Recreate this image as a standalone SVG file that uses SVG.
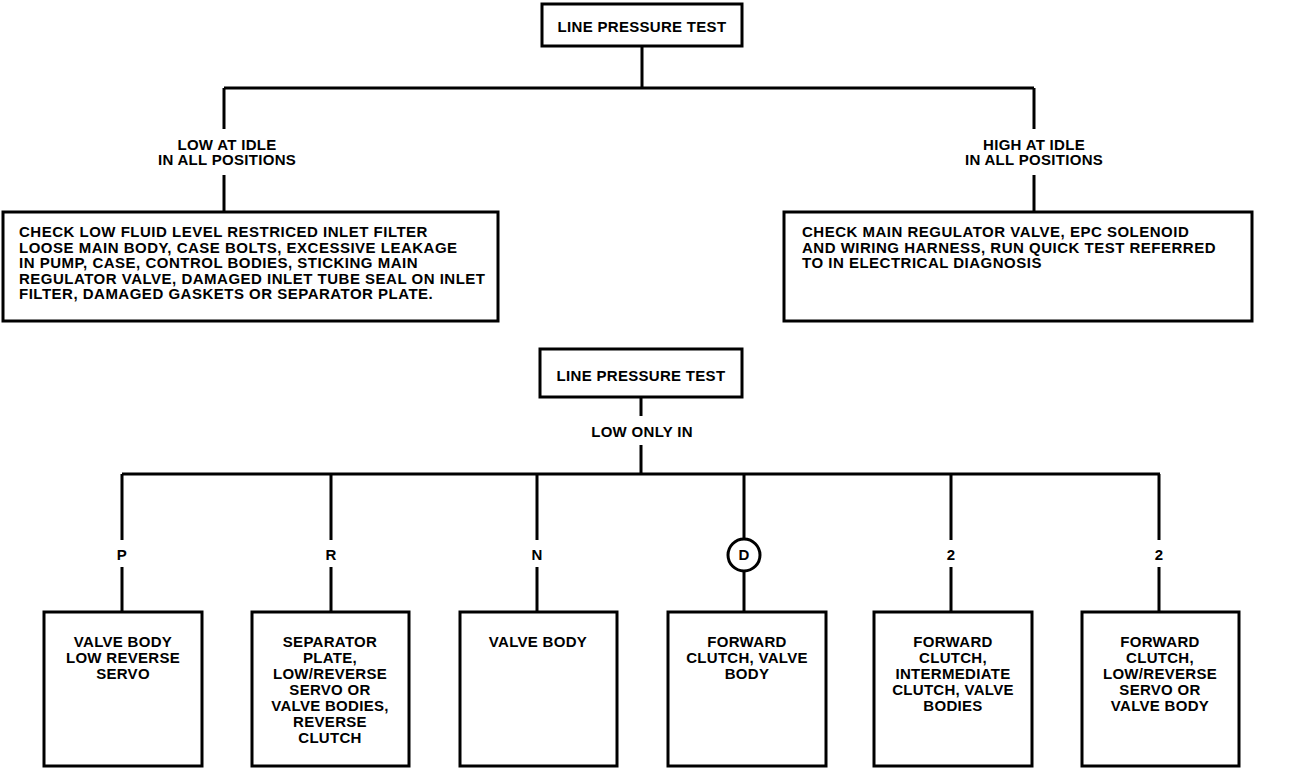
<svg xmlns="http://www.w3.org/2000/svg" width="1312" height="770" viewBox="0 0 1312 770">
<style>
.box{fill:#fff;stroke:#000;stroke-width:3}
.ln{fill:none;stroke:#000;stroke-width:3}
text{font-family:"Liberation Sans",Arial,sans-serif;font-weight:bold;font-size:15px;letter-spacing:0.3px;fill:#000}
.c{text-anchor:middle}
.w{letter-spacing:0.5px}
</style>
<rect width="1312" height="770" fill="#fff"/>
<g id="connectors">
<path class="ln" d="M642 46V88M224 88H1034M224 88V129M224 175V212M1034 88V129M1034 175V212"/>
<path class="ln" d="M641 397V416M641 445V474M122 474H1160"/>
<path class="ln" d="M122 474V540M122 567V612M331 474V540M331 567V612M537 474V540M537 567V612M744 474V539M744 571V612M951 474V540M951 567V612M1159 474V540M1159 567V612"/>
</g>
<g id="lpt1"><rect class="box" x="542" y="4" width="200" height="42"/><text class="c" x="642" y="32">LINE PRESSURE TEST</text></g>
<g id="lowidle"><text class="c" x="227" y="150">LOW AT IDLE</text><text class="c" x="227" y="165">IN ALL POSITIONS</text></g>
<g id="highidle"><text class="c" x="1034" y="150">HIGH AT IDLE</text><text class="c" x="1034" y="165">IN ALL POSITIONS</text></g>
<g id="lowcheck"><rect class="box" x="3" y="212" width="495" height="109"/>
<text class="w" x="19" y="237">CHECK LOW FLUID LEVEL RESTRICED INLET FILTER</text>
<text class="w" x="19" y="253">LOOSE MAIN BODY, CASE BOLTS, EXCESSIVE LEAKAGE</text>
<text class="w" x="19" y="268">IN PUMP, CASE, CONTROL BODIES, STICKING MAIN</text>
<text class="w" x="19" y="284">REGULATOR VALVE, DAMAGED INLET TUBE SEAL ON INLET</text>
<text class="w" x="19" y="299">FILTER, DAMAGED GASKETS OR SEPARATOR PLATE.</text></g>
<g id="highcheck"><rect class="box" x="784" y="212" width="468" height="109"/>
<text class="w" x="802" y="237">CHECK MAIN REGULATOR VALVE, EPC SOLENOID</text>
<text class="w" x="802" y="253">AND WIRING HARNESS, RUN QUICK TEST REFERRED</text>
<text class="w" x="802" y="268">TO IN ELECTRICAL DIAGNOSIS</text></g>
<g id="lpt2"><rect class="box" x="540" y="349" width="202" height="48"/><text class="c" x="641" y="381">LINE PRESSURE TEST</text></g>
<g id="lowonly"><text class="c" x="642" y="437">LOW ONLY IN</text></g>
<g id="labels">
<text class="c" x="122" y="560">P</text>
<text class="c" x="331" y="560">R</text>
<text class="c" x="537" y="560">N</text>
<circle cx="744" cy="555" r="16" class="ln"/><text class="c" x="744" y="560">D</text>
<text class="c" x="951" y="560">2</text>
<text class="c" x="1159" y="560">2</text>
</g>
<g id="p"><rect class="box" x="44" y="612" width="158" height="154"/>
<text class="c" x="123" y="647">VALVE BODY</text><text class="c" x="123" y="663">LOW REVERSE</text><text class="c" x="123" y="679">SERVO</text></g>
<g id="r"><rect class="box" x="252" y="612" width="157" height="154"/>
<text class="c" x="330" y="647">SEPARATOR</text><text class="c" x="330" y="663">PLATE,</text><text class="c" x="330" y="679">LOW/REVERSE</text><text class="c" x="330" y="695">SERVO OR</text><text class="c" x="330" y="711">VALVE BODIES,</text><text class="c" x="330" y="727">REVERSE</text><text class="c" x="330" y="743">CLUTCH</text></g>
<g id="n"><rect class="box" x="460" y="612" width="157" height="154"/>
<text class="c" x="538" y="647">VALVE BODY</text></g>
<g id="d"><rect class="box" x="668" y="612" width="158" height="154"/>
<text class="c" x="747" y="647">FORWARD</text><text class="c" x="747" y="663">CLUTCH, VALVE</text><text class="c" x="747" y="679">BODY</text></g>
<g id="two1"><rect class="box" x="874" y="612" width="158" height="154"/>
<text class="c" x="953" y="647">FORWARD</text><text class="c" x="953" y="663">CLUTCH,</text><text class="c" x="953" y="679">INTERMEDIATE</text><text class="c" x="953" y="695">CLUTCH, VALVE</text><text class="c" x="953" y="711">BODIES</text></g>
<g id="two2"><rect class="box" x="1082" y="612" width="157" height="154"/>
<text class="c" x="1160" y="647">FORWARD</text><text class="c" x="1160" y="663">CLUTCH,</text><text class="c" x="1160" y="679">LOW/REVERSE</text><text class="c" x="1160" y="695">SERVO OR</text><text class="c" x="1160" y="711">VALVE BODY</text></g>
</svg>
